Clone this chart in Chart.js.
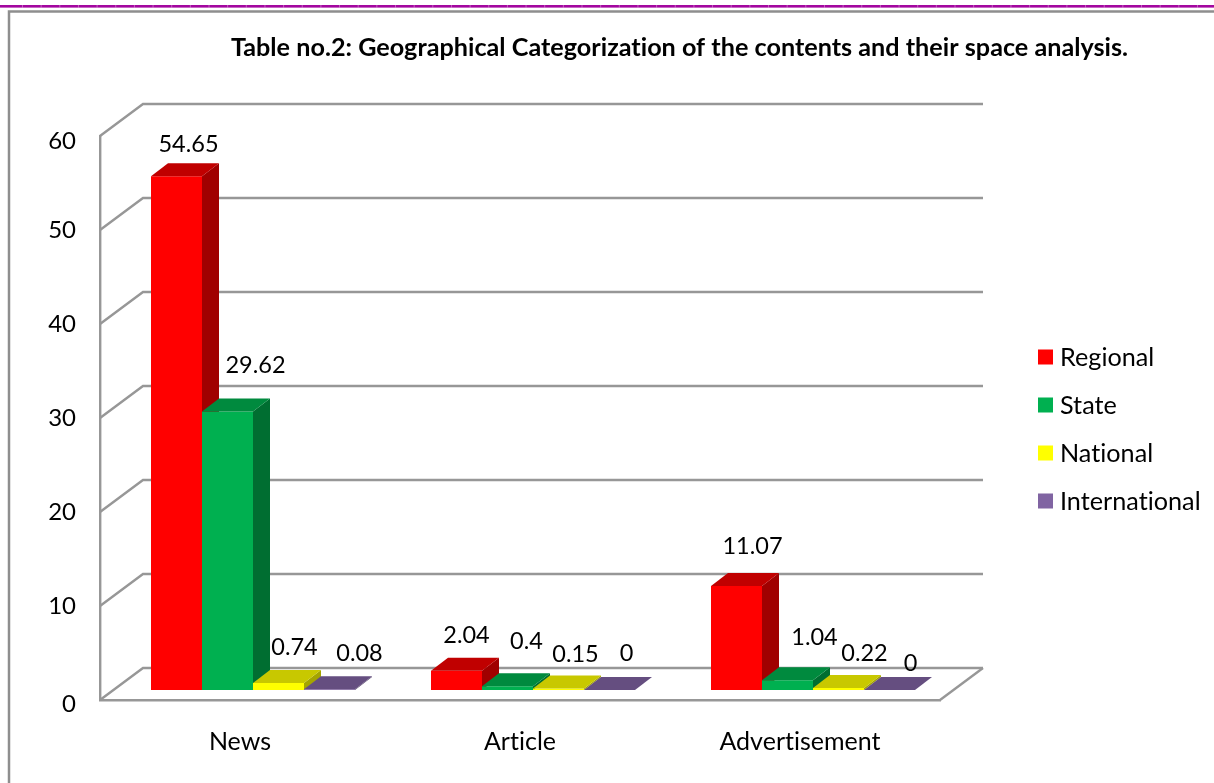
<!DOCTYPE html>
<html>
<head>
<meta charset="utf-8">
<title>Geographical Categorization</title>
<style>
  html, body { margin: 0; padding: 0; background: #fff; overflow: hidden; }
  canvas { display: block; }
</style>
<script src="https://cdn.jsdelivr.net/npm/chart.js@4"></script>
</head>
<body>
<canvas id="chart" width="1214" height="783"></canvas>
<script>
// Share of space by content type and geographical scope
const categories = ["News", "Article", "Advertisement"];
const regional = [54.65, 2.04, 11.07];
const state = [29.62, 0.4, 1.04];
const national = [0.74, 0.15, 0.22];
const international = [0.08, 0, 0];
const seriesNames = ["Regional", "State", "National", "International"];
const yTicks = [0, 10, 20, 30, 40, 50, 60];
const titleText = "Table no.2: Geographical Categorization of the contents and their space analysis.";

// Face colours of each series: front, top, side
const frontColors = ["#FF0000", "#00B050", "#FFFF00", "#8064A2"];
const topColors = ["#C00000", "#008A3E", "#C8C800", "#654E80"];
const sideColors = ["#A00000", "#006E31", "#A5A500", "#503E66"];

const FONT = 'Lato, "Open Sans", sans-serif';
const GRID = "#979797";
const GRID_WIDTH = 2.4;

// Bars stand inside the floor: shifted from the front plane, with a small depth of their own
const planeShift = { x: 13, y: -10 };
const barDepth = { x: 17, y: -13 };
const wallDepth = { x: 43, y: -32 };

// Hand placement of the value labels, relative to the top of each bar's front face
const labelOffsets = [
  [[12, -32], [10, -35], [16, -40]],
  [[28, -46], [19, -45], [27, -43]],
  [[16, -36], [17, -34], [26, -35]],
  [[30, -36], [17, -37], [21, -27]]
];

// The outermost axis labels sit a little lower than the even spacing of the others
const tickLabelDrop = { 0: 4, 60: 5 };

function poly(ctx, pts, fill) {
  ctx.beginPath();
  pts.forEach((p, i) => (i ? ctx.lineTo(p[0], p[1]) : ctx.moveTo(p[0], p[1])));
  ctx.closePath();
  ctx.fillStyle = fill;
  ctx.fill();
}

const scenePlugin = {
  id: "scene",
  // Page rule and outer frame
  beforeDraw(chart) {
    const ctx = chart.ctx;
    // A hair of tracking keeps letter pairs such as "ti" from joining into ligatures
    ctx.letterSpacing = "0.01px";
    ctx.save();
    ctx.fillStyle = "#fff";
    ctx.fillRect(0, 0, chart.width, chart.height);
    ctx.fillStyle = "#A3069F";
    ctx.fillRect(0, 5, chart.width, 2.6);
    ctx.fillStyle = "rgba(255,255,255,0.35)";
    for (let px = 22; px < chart.width; px += 18.65) ctx.fillRect(px, 5, 1, 2.6);
    ctx.strokeStyle = "#8E8E8E";
    ctx.lineWidth = 2.5;
    ctx.beginPath();
    ctx.moveTo(9, chart.height);
    ctx.lineTo(9, 11.5);
    ctx.lineTo(chart.width, 11.5);
    ctx.stroke();
    ctx.restore();

    const yScale = chart.scales.y;
    yScale.getLabelItems(chart.chartArea).forEach(item => {
      const drop = tickLabelDrop[item.label];
      if (drop && !item.dropped) {
        item.textOffset += drop;
        item.dropped = true;
      }
    });
  },
  // Side wall, back wall and floor of the box
  beforeDatasetsDraw(chart) {
    const ctx = chart.ctx;
    const { x, y } = chart.scales;
    const left = x.left, right = x.right;
    const dx = wallDepth.x, dy = wallDepth.y;
    ctx.save();
    ctx.strokeStyle = GRID;
    ctx.lineWidth = GRID_WIDTH;
    yTicks.forEach(v => {
      const py = y.getPixelForValue(v);
      ctx.beginPath();
      ctx.moveTo(left, py);
      ctx.lineTo(left + dx, py + dy);
      ctx.lineTo(right + dx, py + dy);
      ctx.stroke();
    });
    const floorY = y.getPixelForValue(0);
    ctx.beginPath();
    ctx.moveTo(right, floorY);
    ctx.lineTo(right + dx, floorY + dy);
    ctx.stroke();
    ctx.restore();
  },
  // Series are painted below, left to right, so each covers the depth faces of the one before
  beforeDatasetDraw() {
    return false;
  },
  afterDatasetsDraw(chart) {
    const ctx = chart.ctx;
    ctx.save();
    ctx.translate(planeShift.x, planeShift.y);
    chart.data.datasets.forEach((ds, i) => {
      const meta = chart.getDatasetMeta(i);
      meta.controller.draw();
      meta.data.forEach(bar => {
        const x0 = bar.x - bar.width / 2, x1 = bar.x + bar.width / 2;
        const t = bar.y, b = bar.base;
        const dx = barDepth.x, dy = barDepth.y;
        poly(ctx, [[x1, t], [x1 + dx, t + dy], [x1 + dx, b + dy], [x1, b]], sideColors[i]);
        poly(ctx, [[x0, t], [x0 + dx, t + dy], [x1 + dx, t + dy], [x1, t]], topColors[i]);
      });
    });
    ctx.restore();

    // Value labels, heading and key
    ctx.save();
    ctx.fillStyle = "#000";
    ctx.textAlign = "center";
    ctx.textBaseline = "middle";
    ctx.font = "23.5px " + FONT;
    chart.data.datasets.forEach((ds, i) => {
      chart.getDatasetMeta(i).data.forEach((bar, j) => {
        const off = labelOffsets[i][j];
        ctx.fillText(String(ds.data[j]), bar.x + planeShift.x + off[0], bar.y + planeShift.y + off[1]);
      });
    });
    ctx.font = "bold 25.2px " + FONT;
    ctx.fillText(titleText, 679.5, 48);
    ctx.textAlign = "left";
    ctx.font = "25.2px " + FONT;
    chart.data.datasets.forEach((ds, i) => {
      const rowY = 357 + i * 48;
      ctx.fillStyle = frontColors[i];
      ctx.fillRect(1038, rowY - 7.5, 15, 15);
      ctx.fillStyle = "#000";
      ctx.fillText(ds.label, 1060, rowY + 1);
    });
    ctx.restore();
  }
};

const seriesValues = [regional, state, national, international];
const datasets = seriesNames.map((name, i) => ({
  label: name,
  data: seriesValues[i],
  backgroundColor: frontColors[i],
  borderWidth: 0,
  clip: false
}));

new Chart(document.getElementById("chart"), {
  type: "bar",
  data: { labels: categories, datasets },
  plugins: [scenePlugin],
  options: {
    responsive: false,
    animation: false,
    events: [],
    layout: { padding: { top: 136, right: 274, bottom: 0, left: 0 } },
    categoryPercentage: 204 / 280,
    barPercentage: 1,
    plugins: {
      legend: { display: false },
      title: { display: false },
      tooltip: { enabled: false }
    },
    scales: {
      x: {
        grid: { display: false },
        border: { display: true, color: GRID, width: GRID_WIDTH },
        ticks: { color: "#000", font: { family: FONT, size: 25 }, padding: 19, maxRotation: 0 },
        afterFit(s) { s.height = 83; }
      },
      y: {
        min: 0,
        max: 60,
        grid: { display: false },
        border: { display: true, color: GRID, width: GRID_WIDTH },
        afterBuildTicks(s) { s.ticks = yTicks.map(v => ({ value: v })); },
        ticks: { color: "#000", font: { family: FONT, size: 24 }, padding: 16 },
        afterFit(s) { s.width = 100; }
      }
    }
  }
});
</script>
</body>
</html>
